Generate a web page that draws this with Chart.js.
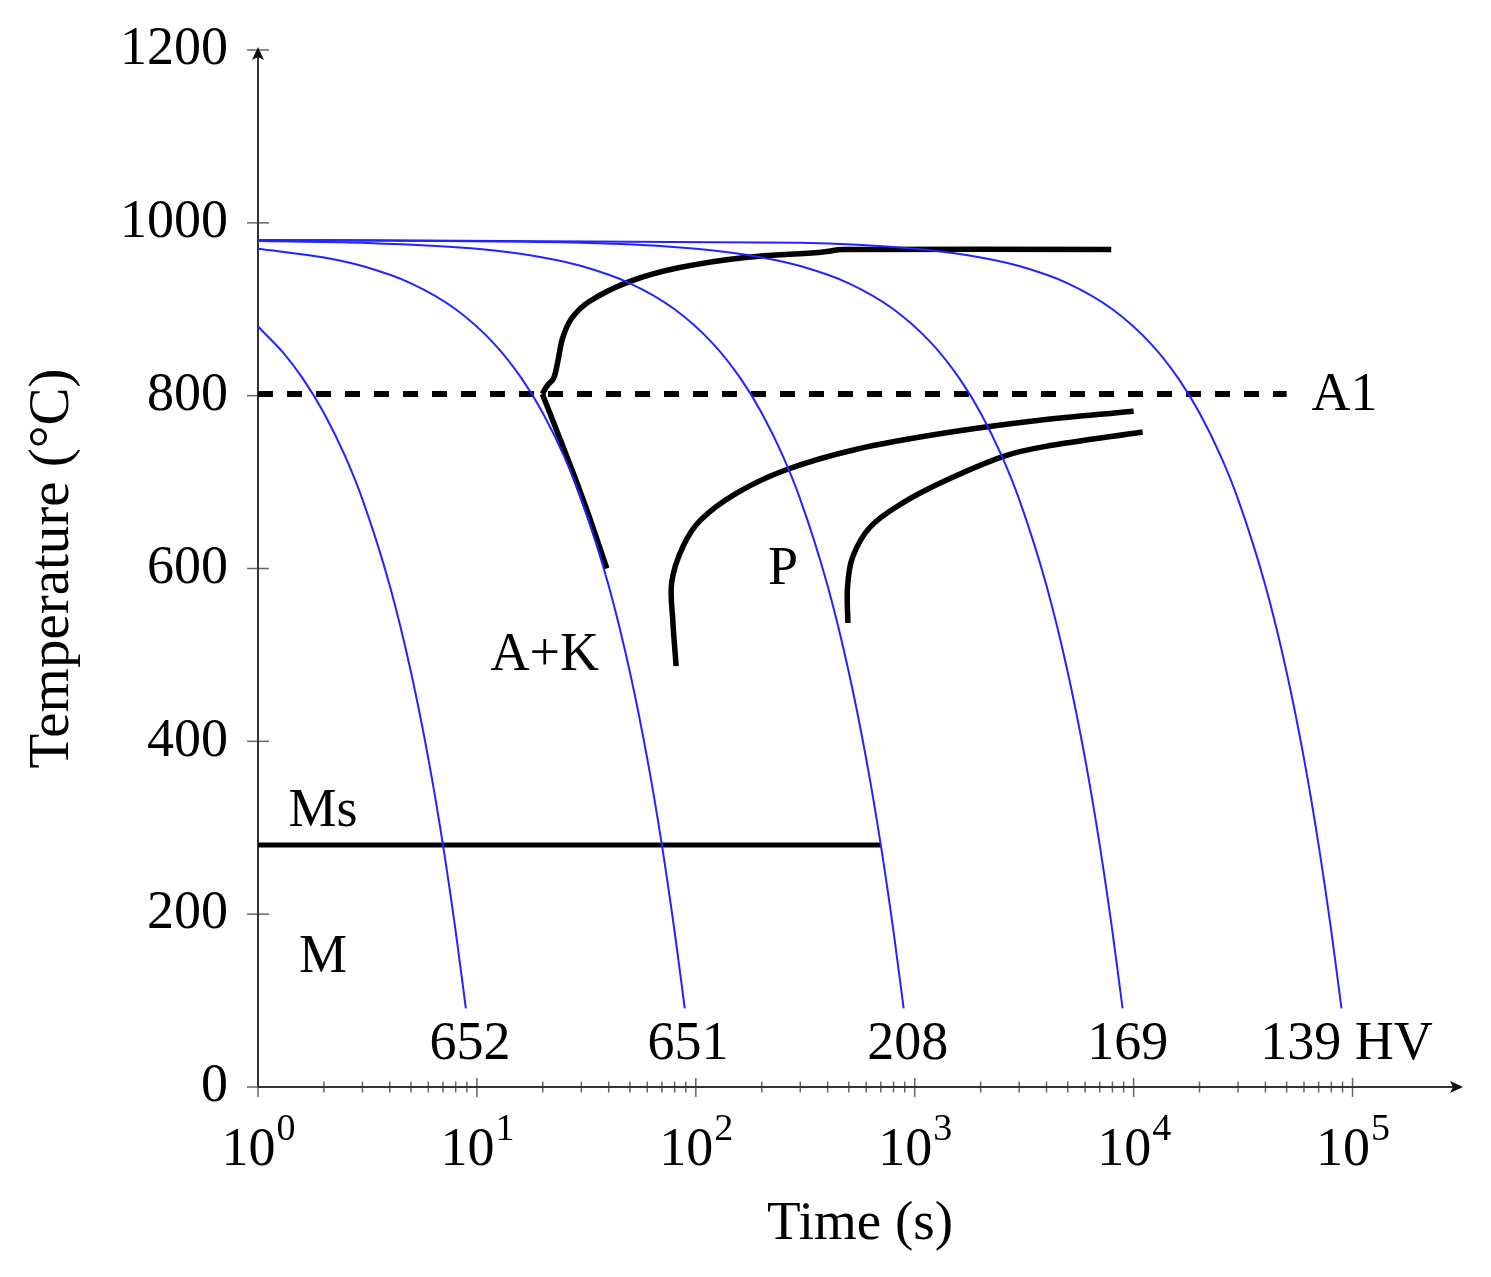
<!DOCTYPE html>
<html>
<head>
<meta charset="utf-8">
<title>CCT diagram</title>
<script src="https://cdn.jsdelivr.net/npm/chart.js@4.4.1/dist/chart.umd.min.js"></script>
<style>
  html, body { margin: 0; padding: 0; background: #fff; }
  #wrap { width: 1491px; height: 1277px; }
</style>
</head>
<body>
<div id="wrap"><canvas id="cctChart"></canvas></div>
<script>
// Curvas de enfriamiento (tiempo en s, temperatura en °C)
const cool1Time = [1, 1.3, 1.6, 2, 2.5, 3, 4, 5, 6, 7, 8, 8.9];
const cool1Temp = [880, 850, 820, 780, 730, 680, 580, 480, 380, 280, 180, 91];
const cool2Time = [1, 2, 3, 5, 8, 12, 16, 20, 25, 30, 40, 50, 60, 70, 80, 89];
const cool2Temp = [970, 960, 950, 930, 900, 860, 820, 780, 730, 680, 580, 480, 380, 280, 180, 91];
const cool3Time = [1, 3, 10, 20, 30, 50, 80, 120, 160, 200, 250, 300, 400, 500, 600, 700, 800, 890];
const cool3Temp = [979, 977, 970, 960, 950, 930, 900, 860, 820, 780, 730, 680, 580, 480, 380, 280, 180, 91];
const cool4Time = [1, 30, 100, 200, 300, 500, 800, 1200, 1600, 2000, 2500, 3000, 4000, 5000, 6000, 7000, 8000, 8900];
const cool4Temp = [980, 977, 970, 960, 950, 930, 900, 860, 820, 780, 730, 680, 580, 480, 380, 280, 180, 91];
const cool5Time = [1, 300, 1000, 2000, 3000, 5000, 8000, 12000, 16000, 20000, 25000, 30000, 40000, 50000, 60000, 70000, 80000, 89000];
const cool5Temp = [980, 977, 970, 960, 950, 930, 900, 860, 820, 780, 730, 680, 580, 480, 380, 280, 180, 91];

// Curvas de transformación
const ferriteTime = [19.9, 21, 22.4, 23.4, 24.6, 27, 32.6, 49.7, 83.3, 168, 374, 473, 7900];
const ferriteTemp = [802, 812, 820, 839, 866, 889, 909, 932, 948, 960, 966, 969, 969];
const carbideTime = [19.9, 22.4, 27.6, 32.6, 39.2];
const carbideTemp = [802, 769, 710, 660, 600];
const pStartTime = [81.3, 78.5, 77.6, 87.2, 105, 153, 257, 543, 1391, 3556, 10000];
const pStartTemp = [487, 540, 584, 625, 656, 687, 714, 738, 757, 771, 782];
const pEndTime = [495, 493, 520, 626, 870, 1391, 2563, 3908, 10990];
const pEndTemp = [537, 578, 613, 648, 675, 702, 730, 741, 758];

// Líneas A1 y Ms
const a1Time = [1, 50000];
const a1Temp = [802, 802];
const msTime = [1, 700];
const msTemp = [280, 280];

// Etiquetas
const hardnessLabels = ['652', '651', '208', '169', '139 HV'];
const hardnessTime = [9.3, 92, 929, 9390, 93900];
const hardnessTemp = [49, 49, 49, 49, 49];
const regionLabels = ['A1', 'Ms', 'M', 'A+K', 'P'];
const regionTime = [92000, 1.98, 1.98, 20.4, 250];
const regionTemp = [800, 318, 149, 499, 598];

// Ejes
const yTicks = [0, 200, 400, 600, 800, 1000, 1200];
const xTickExps = [0, 1, 2, 3, 4, 5];

const FONT = "'Liberation Serif', 'DejaVu Serif', serif";
const BLUE = 'rgb(35, 35, 255)';

function puntos(times, temps) {
    return times.map((t, i) => ({ x: t, y: temps[i] }));
}

function serieAzul(times, temps) {
    return {
        data: puntos(times, temps),
        borderColor: BLUE,
        borderWidth: 2,
        pointRadius: 0,
        cubicInterpolationMode: 'monotone',
        fill: false
    };
}

function serieNegra(times, temps, extra) {
    return Object.assign({
        data: puntos(times, temps),
        borderColor: '#000',
        borderWidth: 5.5,
        pointRadius: 0,
        tension: 0.35,
        fill: false
    }, extra || {});
}

// Plugin para dibujar los ejes con flechas y ticks
const ejesPlugin = {
    id: 'ejesPlugin',
    beforeDatasetsDraw(chart) {
        const { ctx, chartArea: a, scales: { x, y } } = chart;
        ctx.save();

        // ticks del eje y
        ctx.strokeStyle = '#666';
        ctx.lineWidth = 1.5;
        yTicks.forEach(v => {
            const py = y.getPixelForValue(v);
            ctx.beginPath();
            ctx.moveTo(a.left - 11, py);
            ctx.lineTo(a.left + 11, py);
            ctx.stroke();
        });

        // ticks mayores y menores del eje x
        xTickExps.forEach(e => {
            const px = x.getPixelForValue(Math.pow(10, e));
            ctx.beginPath();
            ctx.moveTo(px, a.bottom - 9);
            ctx.lineTo(px, a.bottom + 10);
            ctx.stroke();
            if (e < 5) {
                for (let k = 2; k <= 9; k++) {
                    const pm = x.getPixelForValue(k * Math.pow(10, e));
                    ctx.beginPath();
                    ctx.moveTo(pm, a.bottom - 5.5);
                    ctx.lineTo(pm, a.bottom + 5.5);
                    ctx.stroke();
                }
            }
        });

        // lineas de los ejes
        ctx.strokeStyle = '#333';
        ctx.lineWidth = 2;
        ctx.beginPath();
        ctx.moveTo(a.left, a.bottom);
        ctx.lineTo(a.left, a.top + 4);
        ctx.moveTo(a.left, a.bottom);
        ctx.lineTo(a.right - 4, a.bottom);
        ctx.stroke();

        // flechas
        ctx.fillStyle = '#111';
        ctx.beginPath();
        ctx.moveTo(a.left, a.top - 3);
        ctx.lineTo(a.left - 6, a.top + 10);
        ctx.lineTo(a.left, a.top + 7);
        ctx.lineTo(a.left + 6, a.top + 10);
        ctx.closePath();
        ctx.fill();
        ctx.beginPath();
        ctx.moveTo(a.right + 1, a.bottom);
        ctx.lineTo(a.right - 12, a.bottom - 6);
        ctx.lineTo(a.right - 9, a.bottom);
        ctx.lineTo(a.right - 12, a.bottom + 6);
        ctx.closePath();
        ctx.fill();

        // etiquetas 10^n del eje x
        ctx.fillStyle = '#000';
        ctx.textBaseline = 'alphabetic';
        ctx.textAlign = 'left';
        xTickExps.forEach(e => {
            const px = x.getPixelForValue(Math.pow(10, e));
            ctx.font = '54px ' + FONT;
            const wBase = ctx.measureText('10').width;
            ctx.font = '38px ' + FONT;
            const wExp = ctx.measureText(String(e)).width;
            const x0 = px - (wBase + wExp) / 2;
            ctx.font = '54px ' + FONT;
            ctx.fillText('10', x0, a.bottom + 78);
            ctx.font = '38px ' + FONT;
            ctx.fillText(String(e), x0 + wBase + 1, a.bottom + 53);
        });
        ctx.restore();
    },
    afterDatasetsDraw(chart) {
        const { ctx, scales: { x, y } } = chart;
        ctx.save();
        ctx.fillStyle = '#000';
        ctx.font = '54px ' + FONT;
        ctx.textAlign = 'center';
        ctx.textBaseline = 'middle';
        hardnessLabels.forEach((txt, i) => {
            ctx.fillText(txt, x.getPixelForValue(hardnessTime[i]), y.getPixelForValue(hardnessTemp[i]));
        });
        regionLabels.forEach((txt, i) => {
            ctx.fillText(txt, x.getPixelForValue(regionTime[i]), y.getPixelForValue(regionTemp[i]));
        });
        ctx.restore();
    }
};

document.addEventListener('DOMContentLoaded', function () {
    const ctx = document.getElementById('cctChart').getContext('2d');
    new Chart(ctx, {
        type: 'line',
        data: {
            datasets: [
                serieAzul(cool1Time, cool1Temp),
                serieAzul(cool2Time, cool2Temp),
                serieAzul(cool3Time, cool3Temp),
                serieAzul(cool4Time, cool4Temp),
                serieAzul(cool5Time, cool5Temp),
                serieNegra(a1Time, a1Temp, { borderDash: [15, 14], borderWidth: 6, tension: 0 }),
                serieNegra(msTime, msTemp, { borderWidth: 5, tension: 0 }),
                serieNegra(ferriteTime, ferriteTemp),
                serieNegra(carbideTime, carbideTemp, { tension: 0.2 }),
                serieNegra(pStartTime, pStartTemp),
                serieNegra(pEndTime, pEndTemp)
            ]
        },
        options: {
            responsive: true,
            maintainAspectRatio: false,
            animation: false,
            layout: { padding: { top: 50, right: 29, bottom: 0, left: 0 } },
            plugins: {
                legend: { display: false },
                tooltip: { enabled: false }
            },
            scales: {
                x: {
                    type: 'logarithmic',
                    min: 1,
                    max: 316228,
                    grid: { display: false, drawTicks: false },
                    border: { display: false },
                    ticks: { display: false },
                    title: {
                        display: true,
                        text: 'Time (s)',
                        color: '#000',
                        font: { family: FONT, size: 55 },
                        padding: { top: 19, bottom: 19 }
                    },
                    afterFit(scale) {
                        scale.height = 190;
                        scale.paddingLeft = 0;
                        scale.paddingRight = 0;
                    }
                },
                y: {
                    type: 'linear',
                    min: 0,
                    max: 1200,
                    grid: { display: false, drawTicks: false },
                    border: { display: false },
                    ticks: {
                        stepSize: 200,
                        padding: 30,
                        color: '#000',
                        font: { family: FONT, size: 54 },
                        callback: (v) => String(v)
                    },
                    title: {
                        display: true,
                        text: 'Temperature (°C)',
                        color: '#000',
                        font: { family: FONT, size: 57 },
                        padding: { top: 19, bottom: 19 }
                    },
                    afterFit(scale) {
                        scale.width = 258;
                        scale.paddingTop = 0;
                        scale.paddingBottom = 0;
                    }
                }
            }
        },
        plugins: [ejesPlugin]
    });
});
</script>
</body>
</html>
